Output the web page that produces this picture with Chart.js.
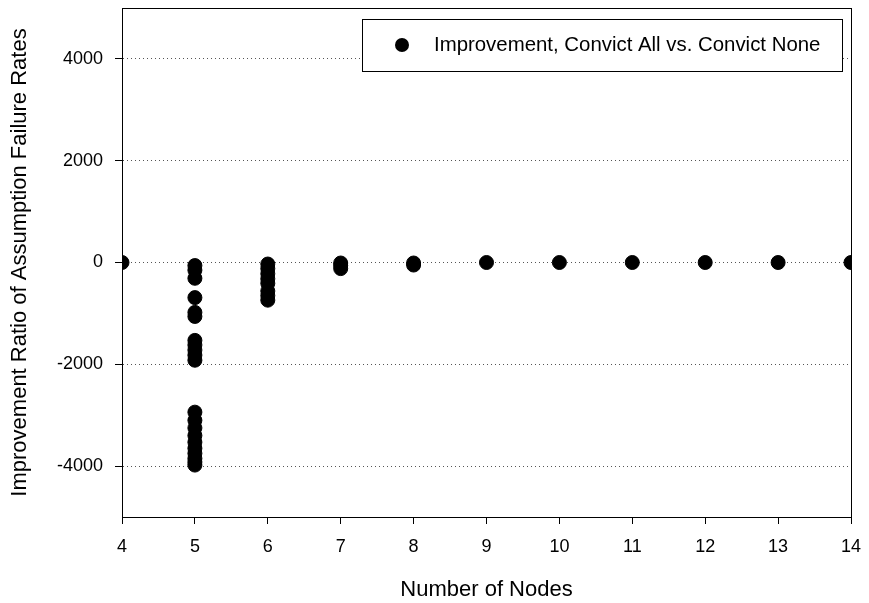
<!DOCTYPE html>
<html>
<head>
<meta charset="utf-8">
<script src="https://cdn.jsdelivr.net/npm/chart.js@4.4.1/dist/chart.umd.min.js"></script>
<style>
  html, body { margin: 0; padding: 0; background: #fff; }
  #wrap { width: 869px; height: 603px; }
</style>
</head>
<body>
<div id="wrap"><canvas id="myChart"></canvas></div>
<script>
// node counts and the improvement ratios measured for each
const nodeCounts = [4, 5, 6, 7, 8, 9, 10, 11, 12, 13, 14];
const ratiosByNodes = [
  [0],
  [-60, -150, -310, -690, -980, -1060, -1530, -1620, -1720, -1820, -1920,
   -2940, -3100, -3250, -3400, -3530, -3650, -3750, -3850, -3920, -3980],
  [-30, -120, -220, -320, -410, -560, -650, -740],
  [-10, -60, -120],
  [-10, -50],
  [0],
  [0],
  [0],
  [0],
  [0],
  [0],
];
const yTicks = [-4000, -2000, 0, 2000, 4000];
const seriesLabel = "Improvement, Convict All vs. Convict None";

const points = [];
nodeCounts.forEach((n, i) => {
  ratiosByNodes[i].forEach((v) => points.push({ x: n, y: v }));
});

const FONT = "'Liberation Sans', Arial, sans-serif";

// frame around the plot plus the boxed legend in the upper right
const frameAndLegend = {
  id: "frameAndLegend",
  afterDraw(chart) {
    const { ctx, chartArea: a } = chart;
    ctx.save();
    ctx.strokeStyle = "#000";
    ctx.lineWidth = 1;
    ctx.strokeRect(a.left + 0.5, a.top + 0.5, a.right - a.left, a.bottom - a.top);

    const bx = 362.5, by = 19.5, bw = 480, bh = 52;
    ctx.fillStyle = "#fff";
    ctx.fillRect(bx, by, bw, bh);
    ctx.strokeRect(bx, by, bw, bh);
    ctx.fillStyle = "#000";
    ctx.beginPath();
    ctx.arc(402, 45, 7, 0, Math.PI * 2);
    ctx.fill();
    ctx.font = "20.4px " + FONT;
    ctx.textBaseline = "middle";
    ctx.fillText(chart.data.datasets[0].label, 434, 45);
    ctx.restore();
  },
};

new Chart(document.getElementById("myChart"), {
  type: "scatter",
  data: {
    datasets: [
      {
        label: seriesLabel,
        data: points,
        backgroundColor: "#000",
        borderColor: "#000",
        pointRadius: 7,
        pointHoverRadius: 7,
      },
    ],
  },
  options: {
    responsive: true,
    maintainAspectRatio: false,
    animation: false,
    layout: { padding: { left: 0, right: 18, top: 8, bottom: 0 } },
    plugins: { legend: { display: false }, tooltip: { enabled: false } },
    scales: {
      x: {
        type: "linear",
        min: 4,
        max: 14,
        afterBuildTicks: (s) => { s.ticks = nodeCounts.map((v) => ({ value: v })); },
        afterFit: (s) => {
          s.height = 86;
          s.paddingLeft = 0;
          s.paddingRight = 0;
        },
        grid: {
          drawOnChartArea: false,
          tickLength: 7,
          tickColor: "#000",
        },
        border: { color: "#000" },
        ticks: {
          color: "#000",
          padding: 12,
          font: { family: FONT, size: 18 },
          callback: (v) => String(v),
        },
        title: {
          display: true,
          text: "Number of Nodes",
          color: "#000",
          font: { family: FONT, size: 22 },
          padding: { top: 0, bottom: 0 },
        },
      },
      y: {
        min: -5000,
        max: 5000,
        afterBuildTicks: (s) => { s.ticks = yTicks.map((v) => ({ value: v })); },
        afterFit: (s) => {
          s.width = 122;
          s.paddingTop = 0;
          s.paddingBottom = 0;
        },
        grid: {
          color: "#555",
          tickBorderDash: [],
          tickLength: 7,
          tickColor: "#000",
        },
        border: { color: "#000", dash: [1, 3] },
        ticks: {
          color: "#000",
          padding: 12,
          font: { family: FONT, size: 18 },
          callback: (v) => String(v),
        },
        title: {
          display: true,
          text: "Improvement Ratio of Assumption Failure Rates",
          color: "#000",
          font: { family: FONT, size: 22 },
          padding: { top: 7, bottom: 0 },
        },
      },
    },
  },
  plugins: [frameAndLegend],
});
</script>
</body>
</html>
